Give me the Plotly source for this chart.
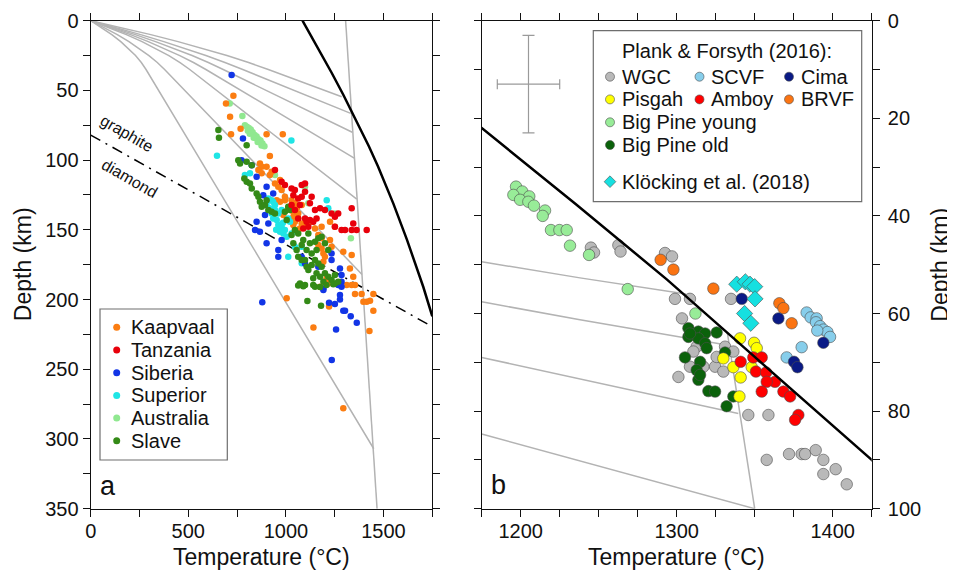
import plotly.graph_objects as go

# ---------------------------------------------------------------- data
# panel a: xenolith P-T estimates (temperature in degC, depth in km)
kaap_T = [731, 693, 714, 768, 719, 901, 984, 918, 867, 876, 901, 859, 876, 918, 927, 944, 970, 961, 978,
          953, 970, 995, 995, 1029, 1046, 1055, 1038, 1063, 1081, 1038, 1063, 1046, 1081, 1106, 1132, 1149,
          1183, 1166, 1183, 1166, 1183, 1192, 1200, 1192, 1183, 1226, 1234, 1294, 1337, 1328, 1345, 1311,
          1217, 1209, 1175, 1226, 1251, 1038, 1072, 1012, 987, 1004, 1337, 1354, 1354, 1388, 1397, 1414,
          1431, 1448, 1448, 1221, 1141, 1428, 1294]
kaap_D = [53.8, 59.3, 68.9, 77.5, 81.5, 81.5, 81.5, 97.1, 102.4, 104.8, 104.8, 107.1, 109.5, 110.7, 108.3,
          116.7, 114.3, 119.1, 121.5, 128.7, 129.8, 128.7, 126.3, 128.7, 131, 134.6, 137, 138.2, 132.2, 140.6,
          141.8, 144.2, 145.4, 146.6, 144.2, 149, 147.8, 153.7, 156.1, 160.9, 163.3, 166.9, 169.3, 172.9,
          175.3, 157.3, 162.1, 165.7, 168.1, 177.7, 183.6, 189.6, 188.4, 184.8, 190.8, 144.2, 147.8, 146.6,
          149, 134.6, 139.4, 199, 189.6, 189.6, 196, 196, 201.6, 201.6, 200.9, 196, 208, 205, 220, 222.6, 278]

tanz_T = [944, 978, 995, 1029, 1046, 1081, 1098, 1038, 1063, 1072, 1029, 1046, 1063, 1098, 1106, 1123,
          1115, 1089, 1149, 1175, 1200, 1157, 1140, 1234, 1268, 1251, 1285, 1303, 1337, 1345, 1362, 1414,
          1337, 1251, 1081, 1098, 1132, 1123]
tanz_D = [107.1, 115.5, 117.9, 120.3, 121.5, 117.9, 116.7, 125.1, 127.5, 132.2, 132.2, 135.8, 141.8, 141.8,
          144.2, 143, 147.8, 149, 135.8, 134.6, 135.8, 141.8, 144.2, 138.2, 138.2, 147.8, 150.2, 150.2,
          150.2, 145.4, 150.2, 150.2, 134.6, 140.6, 126.3, 122.7, 126.3, 131]

sib_T = [722, 780, 773, 825, 850, 901, 884, 935, 893, 850, 910, 842, 867, 901, 961, 961, 1081, 1098, 1234,
         1234, 1277, 1285, 1285, 1268, 1192, 1285, 1166, 978, 879, 1192, 1221, 1251, 1277, 1277, 1294, 1303,
         1332, 1363, 1257, 1235]
sib_D = [39, 84.4, 100, 103.6, 111.9, 119.1, 125.1, 123.9, 139.4, 144.2, 145.4, 150.2, 151.4, 159.7, 164.5,
         169.3, 169.3, 174.1, 166.9, 171.7, 177.7, 182.4, 187.2, 189.6, 192, 190.8, 176.5, 157.3, 202, 193.2,
         202.3, 203.2, 196.8, 199.9, 208, 208, 212, 216.6, 221.4, 243.4]

sup_T = [1028, 647, 790, 816, 910, 927, 901, 944, 918, 927, 935, 953, 961, 978, 970, 995, 1012, 1021, 1029,
         987, 1004, 961, 944, 978, 1012, 1046, 1209, 1217, 1081, 1081, 935, 985, 950]
sup_D = [86, 96.8, 110.7, 109.5, 127.5, 128.7, 131, 132.2, 134.6, 138.2, 141.8, 143, 146.6, 147.8, 151.4,
         150.2, 141.8, 144.2, 152.6, 152.6, 154.9, 138.2, 135.8, 135.8, 169.3, 162.1, 128.7, 134.6, 162.1,
         174, 130, 145, 150]

aus_T = [712, 777, 790, 800, 810, 820, 805, 830, 815, 840, 850, 835, 860, 870, 855, 880, 875, 890, 944,
         1098, 1115, 1251, 1333]
aus_D = [59.3, 68.4, 75, 76, 77, 78, 79, 80, 81, 82, 83, 84, 85, 86, 87, 88, 89.5, 90, 110.7, 119.1, 131,
         138.2, 156.1]

slave_T = [654, 657, 799, 756, 765, 799, 825, 787, 799, 816, 825, 850, 867, 876, 893, 901, 859, 910, 927,
           944, 995, 1012, 1021, 1004, 1046, 1063, 1029, 1038, 1055, 1063, 1081, 1098, 1106, 1132, 1115,
           1149, 1166, 1183, 1200, 1157, 1175, 1140, 1217, 1234, 1251, 1192, 1072, 1098, 1149, 1251, 1268,
           1089, 1123, 1106, 1132, 1157, 1081, 1115, 1149, 1166, 1183, 1200, 1217, 1063, 1089, 1140, 1175,
           1208, 1243, 1110, 1180]
slave_D = [78.4, 83.9, 89.4, 100, 102.4, 101.2, 103.6, 113.1, 115.5, 116.7, 120.3, 123.9, 129.8, 133.4,
           132.2, 128.7, 126.3, 135.8, 137, 138.2, 137, 133.4, 135.8, 143, 150.2, 152.6, 153.7, 159.7, 164.5,
           169.3, 171.7, 171.7, 176.5, 175.3, 178.8, 171.7, 174.1, 176.5, 181.2, 181.2, 183.6, 184.8, 183.6,
           186, 182.4, 187.2, 188.4, 189.6, 190.8, 188.4, 187.2, 157.3, 159.7, 164.5, 166.9, 164.5, 160.9,
           152.6, 158.5, 156.1, 154.9, 159.7, 164.5, 190, 190.5, 189.5, 191, 189.5, 189, 201, 204.4]

# panel a: model geotherms (T degC, depth km)
geo1_T = [0, 158.7, 307.9, 447.5, 577.5, 697.9, 808.8, 909.8, 1286]
geo1_D = [0, 5, 10, 15, 20, 25, 30, 35, 54.5]
geo2_T = [0, 131.6, 256.4, 374.4, 485.6, 590.1, 687.7, 779, 1332]
geo2_D = [0, 5, 10, 15, 20, 25, 30, 35, 66.5]
geo3_T = [0, 117.6, 228.3, 332.2, 429.2, 519.3, 602.6, 678.9, 1340]
geo3_D = [0, 5, 10, 15, 20, 25, 30, 35, 80]
geo4_T = [0, 105.5, 203.8, 295.1, 379.3, 456.4, 526.5, 590.1, 1350]
geo4_D = [0, 5, 10, 15, 20, 25, 30, 35, 98.5]
geo5_T = [0, 95.2, 182.9, 263, 335.5, 400.4, 457.8, 507.4, 1363]
geo5_D = [0, 5, 10, 15, 20, 25, 30, 35, 128]
geo6_T = [0, 70.9, 136.3, 195.9, 250, 298.4, 341.2, 378.6, 1390]
geo6_D = [0, 5, 10, 15, 20, 25, 30, 35, 182]
geo7_T = [0, 56.8, 108.1, 154.1, 194.6, 229.6, 259.3, 283.5, 1450]
geo7_D = [0, 5, 10, 15, 20, 25, 30, 35, 307]
adiabat_T = [1306, 1467]
adiabat_D = [0, 350]

# panel b: geotherms in the zoomed window
rgeo1_T = [1175, 1238, 1306]
rgeo1_D = [49.4, 52.7, 56.0]
rgeo2_T = [1175, 1238, 1333]
rgeo2_D = [57.6, 61.3, 66.5]
rgeo3_T = [1175, 1339.5]
rgeo3_D = [69.0, 80.5]
rgeo4_T = [1175, 1350]
rgeo4_D = [84.7, 100]
radiabat_T = [1332.5, 1350]
radiabat_D = [64, 100]

# dry peridotite solidus and graphite-diamond transition
sol_T = [1085, 1130, 1175, 1235, 1294, 1350, 1400, 1425, 1472, 1550, 1620, 1704, 1750]
sol_D = [0, 11, 22, 37.5, 53.1, 68.9, 83, 90, 104.5, 131, 157, 191, 212]
gd_T = [0, 1750]
gd_D = [82, 219.5]

# panel b: Plank & Forsyth (2016) and Kloecking et al. (2018)
wgc_T = [1245, 1247, 1262.6, 1264, 1292.5, 1297, 1298.9, 1308.5, 1334.8, 1303.4, 1301.1, 1312.8, 1331,
         1336.3, 1310.7, 1324.6, 1329.9, 1317.1, 1308.5, 1325.6, 1345.9, 1358.8, 1357.7, 1372, 1380.1,
         1382.3, 1389.1, 1394, 1401.9, 1394, 1409]
wgc_D = [46.5, 47.5, 46, 47.3, 47.6, 48.3, 57, 57, 57, 61, 73, 66.8, 66.8, 67.8, 67.8, 70.9, 71.9, 70.9,
         70.9, 68.9, 80.8, 80.8, 90, 88.8, 88.8, 88.8, 88, 90, 91.9, 92.9, 95]
bpy_T = [1197, 1201, 1205.5, 1195.3, 1199.6, 1204.9, 1208.5, 1215.6, 1214.1, 1219.4, 1224.8, 1229.5,
         1231.6, 1243.8, 1268.6, 1312]
bpy_D = [34, 35, 36, 35.7, 36.7, 37.1, 37.9, 38.9, 40, 42.9, 42.9, 42.9, 46.1, 48, 55, 60]
bpo_T = [1307.5, 1307.5, 1313.9, 1318.2, 1325.6, 1313.9, 1318.2, 1319.2, 1305.3, 1315, 1312.8, 1313.9,
         1320.3, 1324.6, 1331, 1336.3, 1332, 1315, 1308.5]
bpo_D = [63, 64.8, 63.7, 64.1, 63.9, 65.1, 66.1, 67.1, 69, 69.9, 71.6, 73.6, 75.9, 76, 68, 77, 79, 72.6, 64.1]
pisgah_T = [1340.6, 1349.6, 1351.3, 1329.9, 1336.3, 1341, 1348.1, 1340.2]
pisgah_D = [65.1, 66, 67.1, 69.2, 71, 73.1, 71, 77]
amboy_T = [1341, 1349.1, 1354.5, 1350.8, 1357.3, 1363, 1357.7, 1354.5, 1368.4, 1372.7, 1378, 1375.9]
amboy_D = [69.9, 69, 69, 71.9, 72.1, 74, 74, 76, 76, 77, 80.8, 81.8]
brvf_T = [1289.7, 1297.9, 1323.5, 1365.8, 1368.4, 1373.7]
brvf_D = [49, 51, 54.9, 57.9, 58.9, 62]
scvf_T = [1383.3, 1385.9, 1389.7, 1389.3, 1391.9, 1394, 1396.6, 1398.3, 1390.1, 1380.1, 1370.5]
scvf_D = [59.8, 60.8, 61, 61.8, 62.6, 63.3, 63.8, 64.8, 63.5, 66.9, 69]
cima_T = [1341.7, 1365.2, 1375.2, 1377.4, 1394]
cima_D = [57, 61, 69.9, 71, 66]
kloe_T = [1338.5, 1344, 1347, 1350, 1350.2, 1343.5, 1347.5]
kloe_D = [54, 53.5, 54, 54.5, 57, 60, 62]

# typical uncertainty (cross in panel b)
err_T = [1205]
err_D = [13]
err_dT = 20
err_dD = 10

# tick labels
a_xticks = [0, 250, 500, 750, 1000, 1250, 1500, 1750]
a_yticks = [0, 25, 50, 75, 100, 125, 150, 175, 200, 225, 250, 275, 300, 325, 350]
b_xticks = [1175, 1200, 1225, 1250, 1275, 1300, 1325, 1350, 1375, 1400, 1425]
b_yticks = [0, 10, 20, 30, 40, 50, 60, 70, 80, 90, 100]

# ---------------------------------------------------------------- layout geometry
# the page body has an 8 px margin, so the canvas is placed at (8, 8) in the window
OFF = 8
WIN_W, WIN_H = 955, 570
W, H = WIN_W - OFF, WIN_H - OFF
A_X = (90.7, 432.3)
B_X = (481.7, 871.7)
P_TOP, P_BOT = 20.7, 508.7
FONT = "Liberation Sans, Arial, Helvetica, sans-serif"
GREY = "#b3b3b3"


def px(x):
    return (x - OFF) / W


def py(y):
    return 1 - (y - OFF) / H


fig = go.Figure()


def add_line(x, y, ax, color, width, dash=None):
    xa, ya = ("x", "y") if ax == "a" else ("x2", "y2")
    fig.add_trace(go.Scatter(x=x, y=y, mode="lines", xaxis=xa, yaxis=ya,
                             line=dict(color=color, width=width, dash=dash),
                             hoverinfo="skip", showlegend=False))


def label(x, y, text, size, angle=0, xanchor="center"):
    fig.add_annotation(x=px(x), y=py(y), xref="paper", yref="paper", text=text, showarrow=False,
                       xanchor=xanchor, yanchor="middle", textangle=angle,
                       font=dict(family=FONT, size=size, color="#111"))


# panel a lines
for gT, gD in [(geo1_T, geo1_D), (geo2_T, geo2_D), (geo3_T, geo3_D), (geo4_T, geo4_D),
               (geo5_T, geo5_D), (geo6_T, geo6_D), (geo7_T, geo7_D), (adiabat_T, adiabat_D)]:
    add_line(gT, gD, "a", GREY, 1.5)
add_line(gd_T, gd_D, "a", "black", 1.5, "11px,6px,2px,6px")
add_line(sol_T, sol_D, "a", "black", 2.5)

left_series = [
    ("Kaapvaal", kaap_T, kaap_D, "#fb7d12"),
    ("Tanzania", tanz_T, tanz_D, "#e8000b"),
    ("Siberia", sib_T, sib_D, "#1235e6"),
    ("Superior", sup_T, sup_D, "#1fe5e5"),
    ("Australia", aus_T, aus_D, "#90e890"),
    ("Slave", slave_T, slave_D, "#348a17"),
]
for name, T, D, c in [left_series[4], left_series[0], left_series[3], left_series[2],
                      left_series[5], left_series[1]]:
    fig.add_trace(go.Scatter(x=T, y=D, mode="markers", xaxis="x", yaxis="y", name=name,
                             marker=dict(color=c, size=6.5, line=dict(width=0)),
                             showlegend=False))

# panel b lines
for gT, gD in [(rgeo1_T, rgeo1_D), (rgeo2_T, rgeo2_D), (rgeo3_T, rgeo3_D), (rgeo4_T, rgeo4_D),
               (radiabat_T, radiabat_D)]:
    add_line(gT, gD, "b", GREY, 1.5)

# error cross
fig.add_trace(go.Scatter(x=err_T, y=err_D, mode="markers", xaxis="x2", yaxis="y2",
                         marker=dict(size=1, color="rgba(0,0,0,0)"),
                         error_x=dict(type="constant", value=err_dT, color="#9a9a9a", thickness=1.2, width=5),
                         error_y=dict(type="constant", value=err_dD, color="#9a9a9a", thickness=1.2, width=6),
                         hoverinfo="skip", showlegend=False))

right_series = [
    ("WGC", wgc_T, wgc_D, "#b9b9b9", "circle"),
    ("Big Pine young", bpy_T, bpy_D, "#98ec98", "circle"),
    ("Big Pine old", bpo_T, bpo_D, "#0b620b", "circle"),
    ("Pisgah", pisgah_T, pisgah_D, "#ffff00", "circle"),
    ("Amboy", amboy_T, amboy_D, "#ff0000", "circle"),
    ("BRVF", brvf_T, brvf_D, "#fb7412", "circle"),
    ("SCVF", scvf_T, scvf_D, "#87ceeb", "circle"),
    ("Cima", cima_T, cima_D, "#0a1a85", "circle"),
    ("Klöcking et al. (2018)", kloe_T, kloe_D, "#16e0e0", "diamond"),
]
for name, T, D, c, sym in right_series:
    fig.add_trace(go.Scatter(x=T, y=D, mode="markers", xaxis="x2", yaxis="y2", name=name,
                             marker=dict(color=c, size=11.5 if sym == "circle" else 12.5, symbol=sym,
                                         line=dict(width=0.6, color="#4d4d4d")),
                             showlegend=False))
add_line(sol_T, sol_D, "b", "black", 2.5)

# ---------------------------------------------------------------- legends (drawn on an overlay axis in window pixels)
LEG_A_ROWS = [327.3, 350.0, 372.7, 395.4, 418.1, 440.8]
LEG_A_MX, LEG_A_TX = 116.7, 129.3
for (name, T, D, c), yy in zip(left_series, LEG_A_ROWS):
    fig.add_trace(go.Scatter(x=[LEG_A_MX], y=[yy], mode="markers", xaxis="x3", yaxis="y3",
                             marker=dict(color=c, size=7), hoverinfo="skip", showlegend=False))
    label(LEG_A_TX, yy, name, 20, xanchor="left")

LEG_B = {
    "WGC": (610, 76.7), "SCVF": (699.5, 76.7), "Cima": (789, 76.7),
    "Pisgah": (610, 99.4), "Amboy": (699.5, 99.4), "BRVF": (789, 99.4),
    "Big Pine young": (610, 122.3), "Big Pine old": (610, 145.0),
    "Klöcking et al. (2018)": (610, 181.7),
}
for name, T, D, c, sym in right_series:
    mx, yy = LEG_B[name]
    fig.add_trace(go.Scatter(x=[mx], y=[yy], mode="markers", xaxis="x3", yaxis="y3",
                             marker=dict(color=c, size=9, symbol=sym, line=dict(width=0.6, color="#4d4d4d")),
                             hoverinfo="skip", showlegend=False))
    label(mx + 9.5, yy, name, 20, xanchor="left")
label(619.5, 51, "Plank & Forsyth (2016):", 20, xanchor="left")

fig.add_shape(type="rect", xref="paper", yref="paper", x0=px(100), x1=px(227.3), y0=py(460), y1=py(309),
              line=dict(color="#6e6e6e", width=1.2), layer="below")
fig.add_shape(type="rect", xref="paper", yref="paper", x0=px(593.3), x1=px(861.7), y0=py(201.7), y1=py(30.7),
              line=dict(color="#6e6e6e", width=1.2), layer="below")

# panel letters, phase labels
label(107.5, 486, "a", 27)
label(498.5, 485, "b", 27)
fig.add_annotation(x=186, y=80.8, xref="x", yref="y", text="graphite", showarrow=False, textangle=30,
                   xanchor="center", yanchor="middle", font=dict(family=FONT, size=16, color="#111"))
fig.add_annotation(x=200, y=113.1, xref="x", yref="y", text="diamond", showarrow=False, textangle=30,
                   xanchor="center", yanchor="middle", font=dict(family=FONT, size=16, color="#111"))

# axis titles
label(sum(A_X) / 2, 557, "Temperature (°C)", 23)
label(sum(B_X) / 2, 557, "Temperature (°C)", 23)
label(22.5, (P_TOP + P_BOT) / 2, "Depth (km)", 23, angle=-90)
label(940, (P_TOP + P_BOT) / 2, "Depth (km)", 23, angle=-90)

TICK_FONT = dict(family=FONT, size=20, color="#111")
common = dict(showgrid=False, zeroline=False, showline=True, linecolor="#111", linewidth=1.3,
              ticks="outside", ticklen=7, tickwidth=1.3, tickcolor="#111", mirror="ticks",
              tickfont=TICK_FONT, automargin=False)


def labels(vals, step):
    return [str(v) if v % step == 0 else "" for v in vals]


ydom = [py(P_BOT), py(P_TOP)]
fig.update_layout(
    width=W, height=H, margin=dict(l=0, r=0, t=0, b=0),
    paper_bgcolor="white", plot_bgcolor="rgba(0,0,0,0)", showlegend=False,
    xaxis=dict(domain=[px(A_X[0]), px(A_X[1])], range=[0, 1750], anchor="y", ticklabelstandoff=-3,
               tickmode="array", tickvals=a_xticks, ticktext=labels(a_xticks, 500), **common),
    yaxis=dict(domain=ydom, range=[350, 0], anchor="x",
               tickmode="array", tickvals=a_yticks, ticktext=labels(a_yticks, 50), **common),
    xaxis2=dict(domain=[px(B_X[0]), px(B_X[1])], range=[1175, 1425], anchor="y2", ticklabelstandoff=-3,
                tickmode="array", tickvals=b_xticks, ticktext=labels(b_xticks, 100), **common),
    yaxis2=dict(domain=ydom, range=[100, 0], anchor="x2", side="right", ticklabelstandoff=4,
                tickmode="array", tickvals=b_yticks, ticktext=labels(b_yticks, 20), **common),
    xaxis3=dict(domain=[0, 1], range=[OFF, WIN_W], anchor="y3", visible=False, fixedrange=True),
    yaxis3=dict(domain=[0, 1], range=[WIN_H, OFF], anchor="x3", visible=False, fixedrange=True),
)

fig.write_html("out.html")
